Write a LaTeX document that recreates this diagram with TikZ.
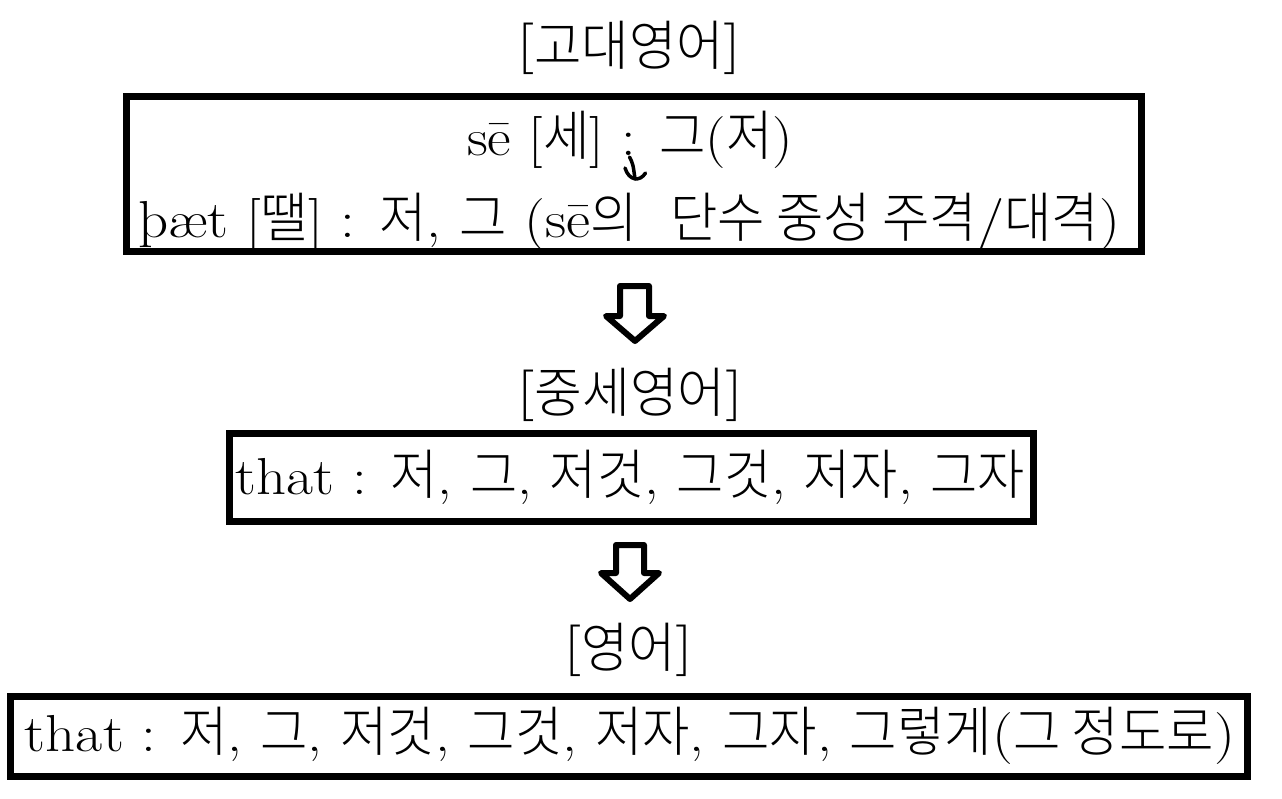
\documentclass[tikz,border=0pt]{standalone}
\usepackage{fontspec}
\usepackage{graphicx}
\IfFontExistsTF{Noto Sans CJK KR Light}
  {\newfontfamily\krfont{Noto Sans CJK KR Light}[Scale=1.04,FakeStretch=0.84]}
  {\newfontfamily\krfont{Noto Sans CJK KR}[Scale=1.04,FakeStretch=0.84]}
\newcommand\K[1]{{\krfont #1}}
\newcommand\fitw[2]{\resizebox{#1}{\height}{#2}}
\begin{document}
\begin{tikzpicture}[x=1pt,y=-1pt,font=\fontsize{52}{60}\selectfont]
\tikzset{
  frame/.style={draw=black, line width=7pt, inner sep=0pt},
  txt/.style={inner sep=0pt, outer sep=0pt},
  blockarrow/.style={draw=black, fill=white, line width=6pt, line join=round},
  hand/.style={draw=black, line width=3.5pt, line cap=round, line join=round}
}
\useasboundingbox (0,0) rectangle (1282,798);
\fill[white] (0,0) rectangle (1282,798);

% titles
\node[txt] (t1) at (629,48) {\fitw{222pt}{\K{[고대영어]}}};
\node[txt] (t2) at (630,395) {\fitw{224pt}{\K{[중세영어]}}};
\node[txt] (t3) at (628.5,650) {\fitw{127pt}{\K{[영어]}}};

% frames
\node[frame, minimum width=1014.5pt, minimum height=155pt] (b1) at (633.75,174) {};
\node[frame, minimum width=804pt, minimum height=88pt] (b2) at (631.5,477.5) {};
\node[frame, minimum width=1236.5pt, minimum height=80.5pt] (b3) at (628.75,736.25) {};

% box texts
\node[txt] (l1) at (630,140) {\fitw{326pt}{sē [\K{세}] : \K{그}(\K{저})}};
\node[txt] (l2) at (629,222) {\fitw{982pt}{þæt [\K{땔}] : \K{저}, \K{그} (sē\K{의}\hspace{0.55em}\K{단수 중성 주격}/\K{대격})}};
\node[txt] (l3) at (630.5,477) {\fitw{789pt}{that : \K{저}, \K{그}, \K{저것}, \K{그것}, \K{저자}, \K{그자}}};
\node[txt] (l4) at (630,736) {\fitw{1210pt}{that : \K{저}, \K{그}, \K{저것}, \K{그것}, \K{저자}, \K{그자}, \K{그렇게}(\K{그 정도로})}};

% small hand-drawn arrow
\coordinate (s1) at (629.5,157);
\coordinate (s2) at (635,179);
\draw[hand] (s1) .. controls (633,164) .. (s2);
\draw[hand] (625,168) .. controls (629,181) and (640,182) .. (645.5,173);

% block arrows
\draw[blockarrow] (620,286) -- (649,286) -- (649,316) -- (664,316) -- (635,341) -- (606,316) -- (620,316) -- cycle;
\draw[blockarrow] (616,545) -- (644,545) -- (644,573) -- (659,573) -- (630,599) -- (601,573) -- (616,573) -- cycle;
\end{tikzpicture}
\end{document}
